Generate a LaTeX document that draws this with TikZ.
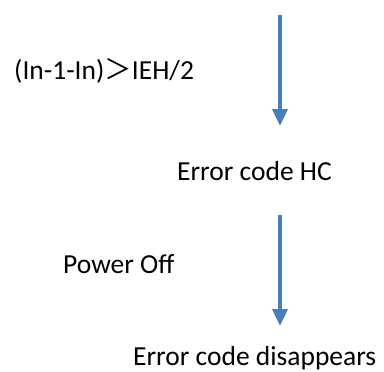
\documentclass[tikz,border=0pt]{standalone}
\usepackage{fontspec}
\setmainfont{Carlito}
\newfontfamily\cjk{Noto Sans CJK SC}
\usepackage{tikz}
\usetikzlibrary{arrows.meta, positioning}
\definecolor{arrowblue}{HTML}{4A7EBB}

\begin{document}
\begin{tikzpicture}[
  x=1pt, y=-1pt,
  label/.style={inner sep=0pt, anchor=base west, font=\fontsize{27.5}{33}\selectfont},
  arr/.style={-{Triangle[length=17pt, width=15pt]}, line width=3.5pt, draw=arrowblue, fill=arrowblue},
]
\useasboundingbox (0,0) rectangle (384,372);

\node[label] (cond) at (14,80) {(In-1-In){\cjk ＞}IEH/2};
\node[label] (hc) at (177,180) {Error code HC};
\node[label] (off) at (63,273) {Power Off};
\node[label] (gone) at (133,366) {Error code disappears};

\coordinate (a1s) at (280,15);
\coordinate (a1e) at (280,126);
\coordinate (a2s) at (280,215);
\coordinate (a2e) at (280,326);

% Arrows
\draw[arr] (a1s) -- (a1e);
\draw[arr] (a2s) -- (a2e);
\end{tikzpicture}
\end{document}
